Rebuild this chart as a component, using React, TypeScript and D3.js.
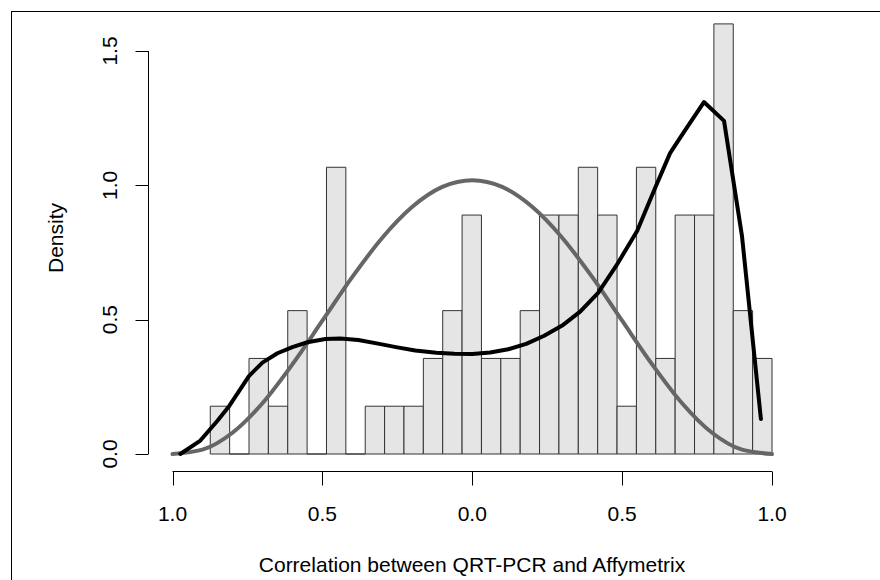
import React, { useEffect, useRef } from "react";
import * as d3 from "d3";

// histogram: 29 equal bins from binStart to binEnd, counts per bin (n = 87)
const binStart = -0.874;
const binEnd = 1.0;
const binCounts = [1, 0, 2, 1, 3, 0, 6, 0, 1, 1, 1, 2, 3, 5, 2, 2, 3, 5, 5, 6, 5, 1, 6, 2, 5, 5, 9, 3, 2];

// gray reference curve
const refX = [-1, -0.9, -0.8, -0.7, -0.6, -0.5, -0.4, -0.3, -0.2, -0.1, 0, 0.1, 0.2, 0.3, 0.4, 0.5, 0.6, 0.7, 0.8, 0.9, 1];
const refY = [0, 0.016, 0.079, 0.189, 0.334, 0.496, 0.659, 0.805, 0.92, 0.994, 1.019, 0.994, 0.92, 0.805, 0.659, 0.496, 0.334, 0.189, 0.079, 0.016, 0];

// black density estimate
const densX = [-0.974, -0.907, -0.85, -0.81, -0.745, -0.7, -0.65, -0.6, -0.55, -0.49, -0.44, -0.38, -0.31, -0.25, -0.19, -0.12, -0.06, 0, 0.06, 0.12, 0.18, 0.24, 0.3, 0.36, 0.42, 0.48, 0.55, 0.61, 0.66, 0.707, 0.773, 0.84, 0.9, 0.963];
const densY = [0, 0.05, 0.124, 0.18, 0.29, 0.34, 0.375, 0.398, 0.416, 0.428, 0.43, 0.424, 0.41, 0.397, 0.385, 0.377, 0.373, 0.372, 0.378, 0.39, 0.41, 0.44, 0.478, 0.53, 0.6, 0.7, 0.83, 0.99, 1.12, 1.2, 1.31, 1.24, 0.81, 0.13];

const xTicks = [-1, -0.5, 0, 0.5, 1];
const xTickLabels = ["1.0", "0.5", "0.0", "0.5", "1.0"];
const yTicks = [0, 0.5, 1, 1.5];
const yTickLabels = ["0.0", "0.5", "1.0", "1.5"];

const xTitle = "Correlation between QRT-PCR and Affymetrix";
const yTitle = "Density";

const App = () => {
  const ref = useRef<SVGSVGElement>(null);
  const width = 880;
  const height = 580;

  useEffect(() => {
    const svg = d3.select(ref.current);
    svg.selectAll("*").remove();

    const font = "'Liberation Sans', Arial, Helvetica, sans-serif";
    const x = d3.scaleLinear().domain([-1, 1]).range([172.5, 772]);
    const y = d3.scaleLinear().domain([0, 1.5]).range([454, 51]);
    const axisY = 471.5;
    const axisX = 148.5;

    // outer frame (only left and top visible)
    svg
      .append("rect")
      .attr("x", 11.5)
      .attr("y", 11.5)
      .attr("width", 1000)
      .attr("height", 1000)
      .attr("fill", "none")
      .attr("stroke", "#000")
      .attr("stroke-width", 1);

    const n = d3.sum(binCounts);
    const w = (binEnd - binStart) / binCounts.length;
    const bins = binCounts.map((c, i) => ({
      x0: binStart + i * w,
      x1: binStart + (i + 1) * w,
      d: c / (n * w),
    }));

    svg
      .append("g")
      .selectAll("path")
      .data(bins)
      .enter()
      .append("path")
      .attr("d", (b) => {
        const x0 = x(b.x0), x1 = x(b.x1), y0 = y(0), y1 = y(b.d);
        return `M${x0},${y0}V${y1}H${x1}V${y0}Z`;
      })
      .attr("fill", "#e5e5e5")
      .attr("stroke", "#333")
      .attr("stroke-width", 1);

    svg
      .append("path")
      .attr(
        "d",
        d3
          .line<number>()
          .x((d, i) => x(refX[i]))
          .y((d) => y(d))
          .curve(d3.curveMonotoneX)(refY)
      )
      .attr("fill", "none")
      .attr("stroke", "#666")
      .attr("stroke-width", 4)
      .attr("stroke-linecap", "round");

    svg
      .append("path")
      .attr(
        "d",
        d3
          .line<number>()
          .x((d, i) => x(densX[i]))
          .y((d) => y(d))
          .curve(d3.curveLinear)(densY)
      )
      .attr("fill", "none")
      .attr("stroke", "#000")
      .attr("stroke-width", 4)
      .attr("stroke-linecap", "round")
      .attr("stroke-linejoin", "round");

    // x axis
    const xa = svg.append("g").attr("stroke", "#000");
    xa.append("line")
      .attr("x1", x(-1))
      .attr("x2", x(1))
      .attr("y1", axisY)
      .attr("y2", axisY);
    xa.selectAll(".tk")
      .data(xTicks)
      .enter()
      .append("line")
      .attr("x1", (d) => Math.round(x(d)) + 0.5)
      .attr("x2", (d) => Math.round(x(d)) + 0.5)
      .attr("y1", axisY)
      .attr("y2", axisY + 14);
    svg
      .append("g")
      .selectAll("text")
      .data(xTicks)
      .enter()
      .append("text")
      .attr("x", (d) => x(d))
      .attr("y", 521)
      .attr("text-anchor", "middle")
      .style("font-family", font)
      .style("font-size", "21px")
      .text((d, i) => xTickLabels[i]);

    // y axis
    const ya = svg.append("g").attr("stroke", "#000");
    ya.append("line")
      .attr("x1", axisX)
      .attr("x2", axisX)
      .attr("y1", y(0))
      .attr("y2", y(1.5));
    ya.selectAll(".tk")
      .data(yTicks)
      .enter()
      .append("line")
      .attr("x1", axisX - 13)
      .attr("x2", axisX)
      .attr("y1", (d) => Math.round(y(d)) + 0.5)
      .attr("y2", (d) => Math.round(y(d)) + 0.5);
    svg
      .append("g")
      .selectAll("text")
      .data(yTicks)
      .enter()
      .append("text")
      .attr("transform", (d) => `translate(117, ${y(d)}) rotate(-90)`)
      .attr("text-anchor", "middle")
      .style("font-family", font)
      .style("font-size", "21px")
      .text((d, i) => yTickLabels[i]);

    svg
      .append("text")
      .attr("x", 472)
      .attr("y", 572)
      .attr("text-anchor", "middle")
      .style("font-family", font)
      .style("font-size", "21px")
      .text(xTitle);

    svg
      .append("text")
      .attr("transform", `translate(63, 238) rotate(-90)`)
      .attr("text-anchor", "middle")
      .style("font-family", font)
      .style("font-size", "21px")
      .text(yTitle);
  }, []);

  return (
    <svg
      ref={ref}
      width={width}
      height={height}
      style={{ position: "absolute", left: 0, top: 0, background: "#fff" }}
    />
  );
};

export default App;
